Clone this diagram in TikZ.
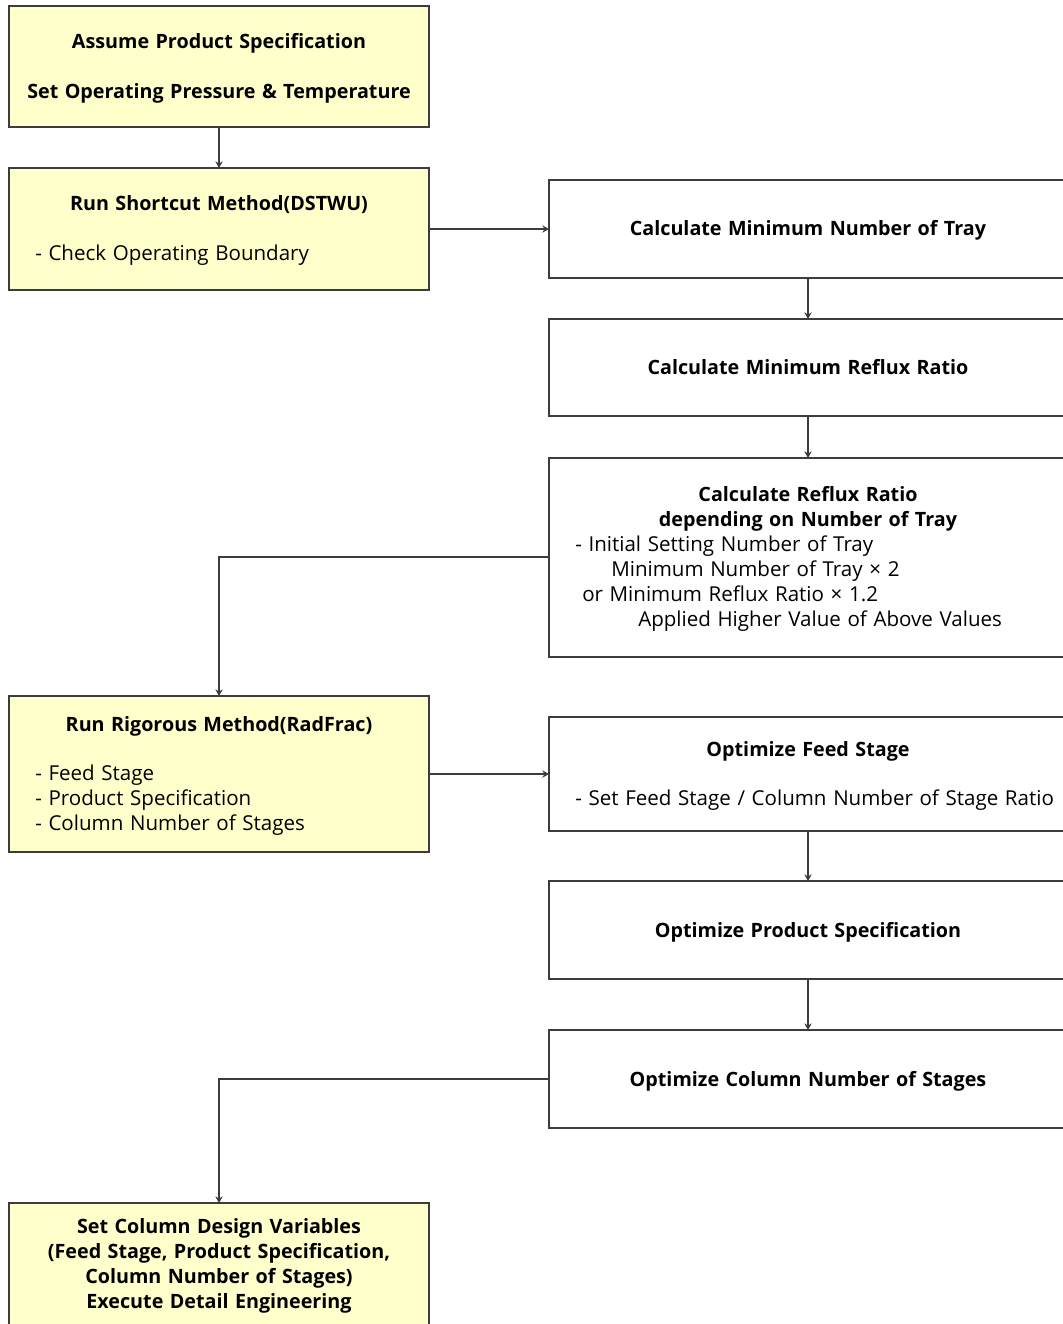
\documentclass[tikz,border=0pt]{standalone}
\usepackage{fontspec}
\setmainfont{Open Sans}[WordSpace=1.25]
\usetikzlibrary{arrows.meta}
\definecolor{boxyellow}{HTML}{FFFFCC}
\definecolor{edgegray}{HTML}{3C3C3C}
\tikzset{
  x=0.75pt, y=-0.75pt,
  yellowbox/.style={draw=edgegray, fill=boxyellow, line width=1pt},
  whitebox/.style={draw=edgegray, fill=white, line width=1pt},
  flow/.style={draw=edgegray, line width=1pt, -{Stealth[length=5pt,width=5.5pt]}},
  boldtxt/.style={font=\fontsize{14.8}{18}\selectfont\bfseries, inner sep=0pt, anchor=base},
  plaintxt/.style={font=\fontsize{15.4}{18}\selectfont, inner sep=0pt, anchor=base west},
}
\begin{document}
\begin{tikzpicture}
\useasboundingbox (0,0) rectangle (1063,1324);
\clip (0,0) rectangle (1063,1324);

% boxes of the left column
\path[yellowbox] (9,6) rectangle (429,127);
\coordinate (aS) at (219,127);
\path[yellowbox] (9,168) rectangle (429,290);
\coordinate (bN) at (219,168); \coordinate (bE) at (429,229);
\path[yellowbox] (9,696) rectangle (429,852);
\coordinate (cN) at (219,696); \coordinate (cE) at (429,774);
\path[yellowbox] (9,1203) rectangle (429,1345);
\coordinate (dN) at (219,1203);

% boxes of the right column
\path[whitebox] (549,180) rectangle (1067,278);
\coordinate (r1W) at (549,229); \coordinate (r1S) at (808,278);
\path[whitebox] (549,319) rectangle (1067,416);
\coordinate (r2N) at (808,319); \coordinate (r2S) at (808,416);
\path[whitebox] (549,458) rectangle (1067,657);
\coordinate (r3N) at (808,458); \coordinate (r3W) at (549,557);
\path[whitebox] (549,717) rectangle (1067,831);
\coordinate (r4W) at (549,774); \coordinate (r4S) at (808,831);
\path[whitebox] (549,881) rectangle (1067,979);
\coordinate (r5N) at (808,881); \coordinate (r5S) at (808,979);
\path[whitebox] (549,1030) rectangle (1067,1128);
\coordinate (r6N) at (808,1030); \coordinate (r6W) at (549,1079);

% texts
\node[boldtxt] (ta1) at (219,48) {Assume Product Specification};
\node[boldtxt] (ta2) at (219,98) {Set Operating Pressure \& Temperature};
\node[boldtxt] (tb1) at (219,210) {Run Shortcut Method(DSTWU)};
\node[plaintxt] (tb2) at (35,260) {- Check Operating Boundary};
\node[boldtxt] (tr1) at (808,235) {Calculate Minimum Number of Tray};
\node[boldtxt] (tr2) at (808,374) {Calculate Minimum Reflux Ratio};
\node[boldtxt] (tr3a) at (808,501) {Calculate Reflux Ratio};
\node[boldtxt] (tr3b) at (808,526) {depending on Number of Tray};
\node[plaintxt] (tr3c) at (575,551) {- Initial Setting Number of Tray};
\node[plaintxt] (tr3d) at (611,576) {Minimum Number of Tray × 2};
\node[plaintxt] (tr3e) at (582,601) {or Minimum Reflux Ratio × 1.2};
\node[plaintxt] (tr3f) at (638,626) {Applied Higher Value of Above Values};
\node[boldtxt] (tc1) at (219,731) {Run Rigorous Method(RadFrac)};
\node[plaintxt] (tc2) at (35,780) {- Feed Stage};
\node[plaintxt] (tc3) at (35,805) {- Product Specification};
\node[plaintxt] (tc4) at (35,830) {- Column Number of Stages};
\node[boldtxt] (tr4a) at (808,756) {Optimize Feed Stage};
\node[plaintxt] (tr4b) at (575,805) {- Set Feed Stage / Column Number of Stage Ratio};
\node[boldtxt] (tr5) at (808,937) {Optimize Product Specification};
\node[boldtxt] (tr6) at (808,1086) {Optimize Column Number of Stages};
\node[boldtxt] (td1) at (219,1233) {Set Column Design Variables};
\node[boldtxt] (td2) at (219,1258) {(Feed Stage, Product Specification,};
\node[boldtxt] (td3) at (219,1283) {Column Number of Stages)};
\node[boldtxt] (td4) at (219,1308) {Execute Detail Engineering};

% connectors
\draw[flow] (aS) -- (bN);
\draw[flow] (bE) -- (r1W);
\draw[flow] (r1S) -- (r2N);
\draw[flow] (r2S) -- (r3N);
\draw[flow] (r3W) -| (cN);
\draw[flow] (cE) -- (r4W);
\draw[flow] (r4S) -- (r5N);
\draw[flow] (r5S) -- (r6N);
\draw[flow] (r6W) -| (dN);
\end{tikzpicture}
\end{document}
